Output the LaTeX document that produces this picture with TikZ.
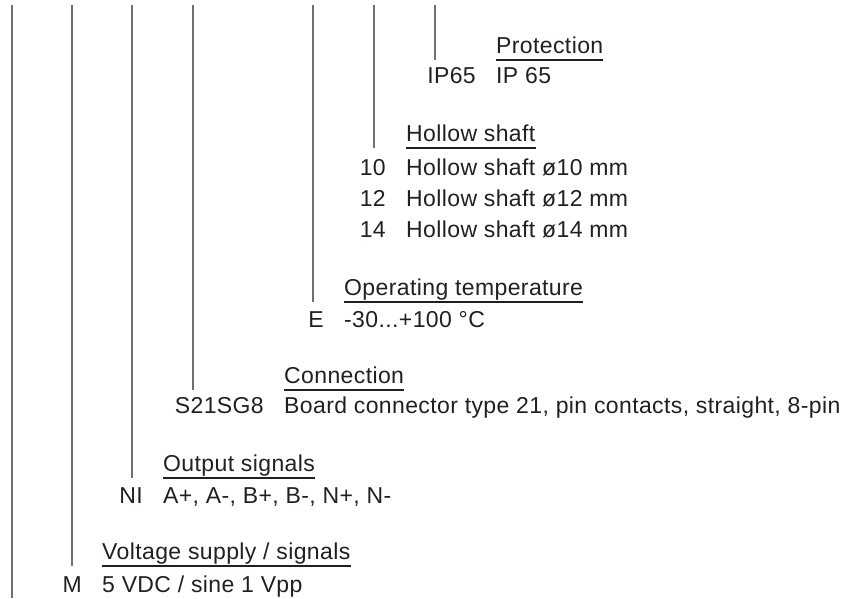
\documentclass[tikz,border=0pt]{standalone}
\usepackage{fontspec}
\setmainfont[LetterSpace=1.7]{Liberation Sans}
\usetikzlibrary{calc, positioning}

\definecolor{textgray}{HTML}{231F20}
\definecolor{guidegray}{HTML}{707070}

\begin{document}
\begin{tikzpicture}[x=1pt, y=-1pt,
    every node/.style={inner sep=0pt, text=textgray, font=\fontsize{23}{27}\selectfont},
    desc/.style={anchor=base west},
    guide/.style={guidegray, line width=1.1pt},
    uline/.style={textgray, line width=1.3pt}]
    \useasboundingbox (0,0) rectangle (847,598);
    % Variablen
    \def\gap{20pt} % Abstand Code - Text
    \def\under{7} % Abstand Grundlinie - Unterstrich

    % Schutzart
    \node[desc] (h1) at (496,53) {Protection};
    \node[desc] (d1) at (496,83) {IP 65};
    \node[base left=\gap of d1] (c1) {IP65};
    \coordinate (u1) at ($(h1.base west)+(0,\under)$);
    \draw[uline] (u1) -- ($(h1.base east)+(0,\under)$);

    % Hohlwelle
    \node[desc] (h2) at (406,141) {Hollow shaft};
    \node[desc] (d2) at (406,175) {Hollow shaft ø10 mm};
    \node[desc] (d2b) at (406,206) {Hollow shaft ø12 mm};
    \node[desc] (d2c) at (406,237) {Hollow shaft ø14 mm};
    \node[base left=\gap of d2] (c2) {10};
    \node[base left=\gap of d2b] (c2b) {12};
    \node[base left=\gap of d2c] (c2c) {14};
    \coordinate (u2) at ($(h2.base west)+(0,\under)$);
    \draw[uline] (u2) -- ($(h2.base east)+(0,\under)$);

    % Betriebstemperatur
    \node[desc] (h3) at (344,295) {Operating temperature};
    \node[desc] (d3) at (344,327) {-30...+100 °C};
    \node[base left=\gap of d3] (c3) {E};
    \coordinate (u3) at ($(h3.base west)+(0,\under)$);
    \draw[uline] (u3) -- ($(h3.base east)+(0,\under)$);

    % Anschluss
    \node[desc] (h4) at (284,383) {Connection};
    \node[desc] (d4) at (284,413) {Board connector type 21, pin contacts, straight, 8-pin};
    \node[base left=\gap of d4] (c4) {S21SG8};
    \coordinate (u4) at ($(h4.base west)+(0,\under)$);
    \draw[uline] (u4) -- ($(h4.base east)+(0,\under)$);

    % Ausgangssignale
    \node[desc] (h5) at (163,471) {Output signals};
    \node[desc] (d5) at (163,503) {A+, A-, B+, B-, N+, N-};
    \node[base left=\gap of d5] (c5) {NI};
    \coordinate (u5) at ($(h5.base west)+(0,\under)$);
    \draw[uline] (u5) -- ($(h5.base east)+(0,\under)$);

    % Versorgung / Signale
    \node[desc] (h6) at (102,559) {Voltage supply / signals};
    \node[desc] (d6) at (102,592) {5 VDC / sine 1 Vpp};
    \node[base left=\gap of d6] (c6) {M};
    \coordinate (u6) at ($(h6.base west)+(0,\under)$);
    \draw[uline] (u6) -- ($(h6.base east)+(0,\under)$);

    % Fuehrungslinien
    \foreach \x/\u in {435/u1, 374/u2, 313/u3, 193/u4, 132/u5, 72/u6} {
        \draw[guide] (\x,5) -- (\x,5 |- \u);
    }
    \draw[guide] (12,5) -- (12,598);
\end{tikzpicture}
\end{document}
